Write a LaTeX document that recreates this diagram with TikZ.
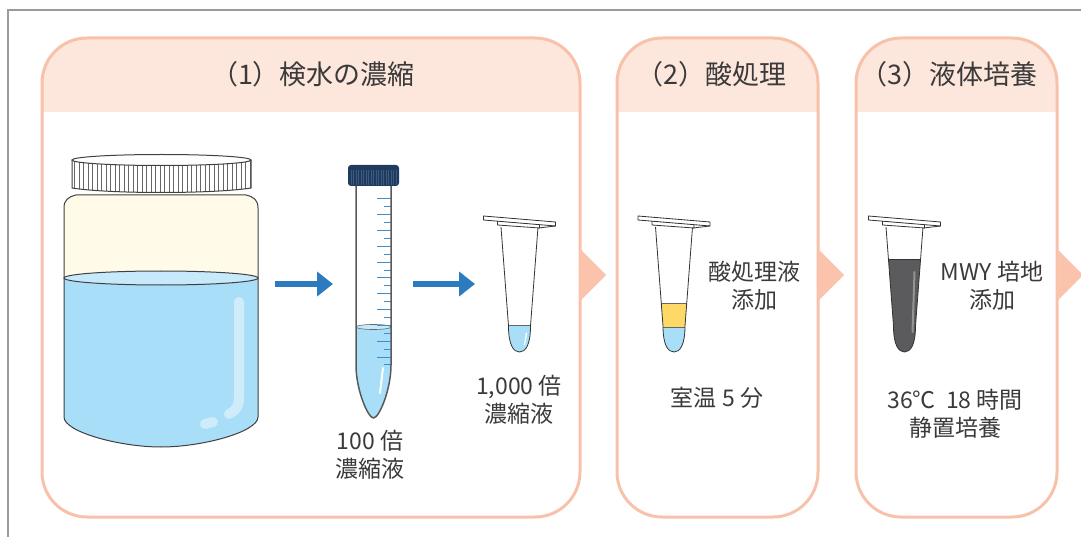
\documentclass[tikz,border=0pt]{standalone}
\usepackage{fontspec}
\newfontfamily\jp{Noto Sans CJK JP}
\usetikzlibrary{arrows.meta}

\definecolor{panelline}{HTML}{F8C1AA}
\definecolor{headfill}{HTML}{FDE6DC}
\definecolor{chevron}{HTML}{FBC3AB}
\definecolor{arrowblue}{HTML}{2B7BBE}
\definecolor{water}{HTML}{A9DEF8}
\definecolor{watertop}{HTML}{C6EAFB}
\definecolor{jarcream}{HTML}{FFFBE8}
\definecolor{capnavy}{HTML}{1F3A5C}
\definecolor{capridge}{HTML}{3A5A80}
\definecolor{scaleblue}{HTML}{3D8BD0}
\definecolor{acidyellow}{HTML}{FFD966}
\definecolor{broth}{HTML}{5B5B5D}
\definecolor{inkgray}{HTML}{3A3A3A}
\definecolor{framegray}{HTML}{9B9B9B}

% small reaction tube, #1 = centre x, #2 = liquid drawn inside it
\newcommand\mtube[2]{%
  \begin{scope}[shift={(#1,227)}]
    \fill[white] (-18.5,0) -- (-11,99) .. controls (-11,118) and (-6,125) .. (0,125)
      .. controls (6,125) and (11,118) .. (11,99) -- (18.5,0) -- cycle;
    \begin{scope}
      \clip (-18.5,0) -- (-11,99) .. controls (-11,118) and (-6,125) .. (0,125)
        .. controls (6,125) and (11,118) .. (11,99) -- (18.5,0) -- cycle;
      #2
    \end{scope}
    \draw[tubeline] (-18.5,0) -- (-11,99) .. controls (-11,118) and (-6,125) .. (0,125)
      .. controls (6,125) and (11,118) .. (11,99) -- (18.5,0);
    \draw[tubeline, fill=white] (-22,-6) -- (20,-3) -- (20,1) -- (-22,-2) -- cycle;
    \draw[tubeline, fill=white] (-36,-11) -- (36,-5) -- (36,-1) -- (-36,-7) -- cycle;
    \draw[tubeline] (19,1) -- (36,-1);
  \end{scope}}

\begin{document}
\begin{tikzpicture}[x=1pt,y=-1pt,
    panel/.style={draw=panelline, line width=3pt, rounded corners=45pt},
    title/.style={font=\jp\fontsize{27}{32}\selectfont, text=inkgray, inner sep=0pt},
    label/.style={font=\jp\fontsize{23}{28}\selectfont, text=inkgray, align=center, inner sep=0pt},
    flowarrow/.style={arrowblue, line width=6pt, -{Triangle[length=16pt,width=24pt]}},
    tubeline/.style={draw=black!80, line width=0.8pt},
    jarline/.style={draw=black!75, line width=1pt}]
  \useasboundingbox (0,0) rectangle (1081,537);

  % outer frame
  \draw[framegray, line width=2pt] (8,537) -- (8,10) -- (1081,10);

  % three panels with shaded headers
  \begin{scope}
    \clip[rounded corners=45pt] (42,38) rectangle (580,517);
    \fill[headfill] (42,38) rectangle (580,112);
  \end{scope}
  \draw[panel] (42,38) rectangle (580,517);
  \begin{scope}
    \clip[rounded corners=45pt] (617,38) rectangle (818,517);
    \fill[headfill] (617,38) rectangle (818,112);
  \end{scope}
  \draw[panel] (617,38) rectangle (818,517);
  \begin{scope}
    \clip[rounded corners=45pt] (856,38) rectangle (1057,517);
    \fill[headfill] (856,38) rectangle (1057,112);
  \end{scope}
  \draw[panel] (856,38) rectangle (1057,517);

  \fill[chevron] (580,249) -- (606,275) -- (580,301) -- cycle;
  \fill[chevron] (818,249) -- (844,275) -- (818,301) -- cycle;
  \fill[chevron] (1057,249) -- (1083,275) -- (1057,301) -- cycle;

  \node[title] (t1) at (313,74) {（1）検水の濃縮};
  \node[title] (t2) at (711,74) {（2）酸処理};
  \node[title] (t3) at (949,74) {（3）液体培養};

  % sample jar
  \fill[jarcream] (64,417) -- (64,208) .. controls (64,200) and (68,197) .. (76,195)
    -- (246,195) .. controls (254,197) and (258,200) .. (258,208) -- (258,417)
    .. controls (258,432) and (202,447) .. (161,447) .. controls (120,447) and (64,432) .. (64,417) -- cycle;
  \fill[water] (64,278) -- (64,417) .. controls (64,432) and (120,447) .. (161,447)
    .. controls (202,447) and (258,432) .. (258,417) -- (258,278) -- cycle;
  \draw[jarline, fill=watertop] (161,278) ellipse [x radius=97, y radius=7];
  \draw[white, opacity=.45, line width=10pt, line cap=round]
    (239,302) -- (239,398) .. controls (239,407) and (235,411) .. (229,414);
  \draw[white, opacity=.45, line width=10pt, line cap=round] (205,424) -- (213,422);
  \draw[jarline] (64,417) -- (64,208) .. controls (64,200) and (68,197) .. (76,195)
    -- (246,195) .. controls (254,197) and (258,200) .. (258,208) -- (258,417)
    .. controls (258,432) and (202,447) .. (161,447) .. controls (120,447) and (64,432) .. (64,417) -- cycle;
  % jar lid
  \fill[white] (72,160) -- (72,188) .. controls (110,194) and (212,194) .. (251,188) -- (251,160) -- cycle;
  \begin{scope}
    \clip (72,160) -- (72,188) .. controls (110,194) and (212,194) .. (251,188) -- (251,160) -- cycle;
    \foreach \x in {74.5,79,...,250}
      \draw[black!60, line width=0.8pt] (\x,158) -- (\x,195);
  \end{scope}
  \draw[jarline] (72,160) -- (72,188) .. controls (110,194) and (212,194) .. (251,188) -- (251,160);
  \draw[jarline, fill=white] (161.5,160) ellipse [x radius=89.5, y radius=5.5];
  \coordinate (jarR) at (275,284);

  % 50 ml tube with scale
  \fill[white] (356,185) -- (356,365) .. controls (356,390) and (368,418) .. (373.5,418)
    .. controls (379,418) and (391,390) .. (391,365) -- (391,185) -- cycle;
  \begin{scope}
    \clip (356,185) -- (356,365) .. controls (356,390) and (368,418) .. (373.5,418)
      .. controls (379,418) and (391,390) .. (391,365) -- (391,185) -- cycle;
    \fill[water] (350,327) rectangle (400,420);
    \draw[black!60, fill=watertop, line width=0.6pt] (373.5,327) ellipse [x radius=17.5, y radius=2.5];
    \draw[white, line width=2pt, line cap=round] (383,368) -- (380,393);
  \end{scope}
  \foreach \i in {0,...,21} {
    \pgfmathsetmacro\yy{199+7.9*\i}
    \ifodd\i
      \draw[scaleblue, line width=1pt] (384,\yy) -- (391,\yy);
    \else
      \draw[scaleblue, line width=1pt] (377,\yy) -- (391,\yy);
    \fi
  }
  \draw[black!65, line width=1.5pt] (356,185) -- (356,365) .. controls (356,390) and (368,418) .. (373.5,418)
    .. controls (379,418) and (391,390) .. (391,365) -- (391,185);
  \fill[capnavy, rounded corners=3pt] (348,165) rectangle (399,186);
  \foreach \x in {351,353.5,...,397}
    \draw[capridge, line width=0.7pt] (\x,170) -- (\x,185);
  \coordinate (falconL) at (333,284);
  \coordinate (falconR) at (413,284);
  \node[label] (x100) at (370,455) {100 倍\\濃縮液};

  % concentrate in a small tube
  \mtube{519.5}{\fill[water] (-20,98) rectangle (20,130);
    \draw[black!60, line width=0.6pt] (-20,98) -- (20,98);
    \draw[white, line width=1.2pt, line cap=round] (7,106) -- (5,118);}
  \coordinate (eppL) at (475,284);
  \node[label] (x1000) at (519,400) {1,000 倍\\濃縮液};

  \draw[flowarrow] (jarR) -- (falconL);
  \draw[flowarrow] (falconR) -- (eppL);

  % acid treatment
  \mtube{674}{\fill[acidyellow] (-20,76) rectangle (20,100);
    \fill[water] (-20,100) rectangle (20,130);
    \draw[black!60, line width=0.6pt] (-20,76) -- (20,76);
    \draw[black!60, line width=0.6pt] (-20,100) -- (20,100);}
  \node[label] (acid) at (754,286) {酸処理液\\添加};
  \node[label] (rt) at (717,398) {室温 5 分};

  % liquid culture
  \mtube{904.5}{\fill[broth] (-20,32) rectangle (20,130);
    \draw[black!80, line width=0.6pt] (-20,32) -- (20,32);
    \draw[white, opacity=.35, line width=2pt, line cap=round] (10,45) -- (8,105);}
  \node[label] (mwy) at (992,286) {MWY 培地\\添加};
  \node[label] (incub) at (955,414) {36℃\ \ 18 時間\\静置培養};
\end{tikzpicture}
\end{document}
